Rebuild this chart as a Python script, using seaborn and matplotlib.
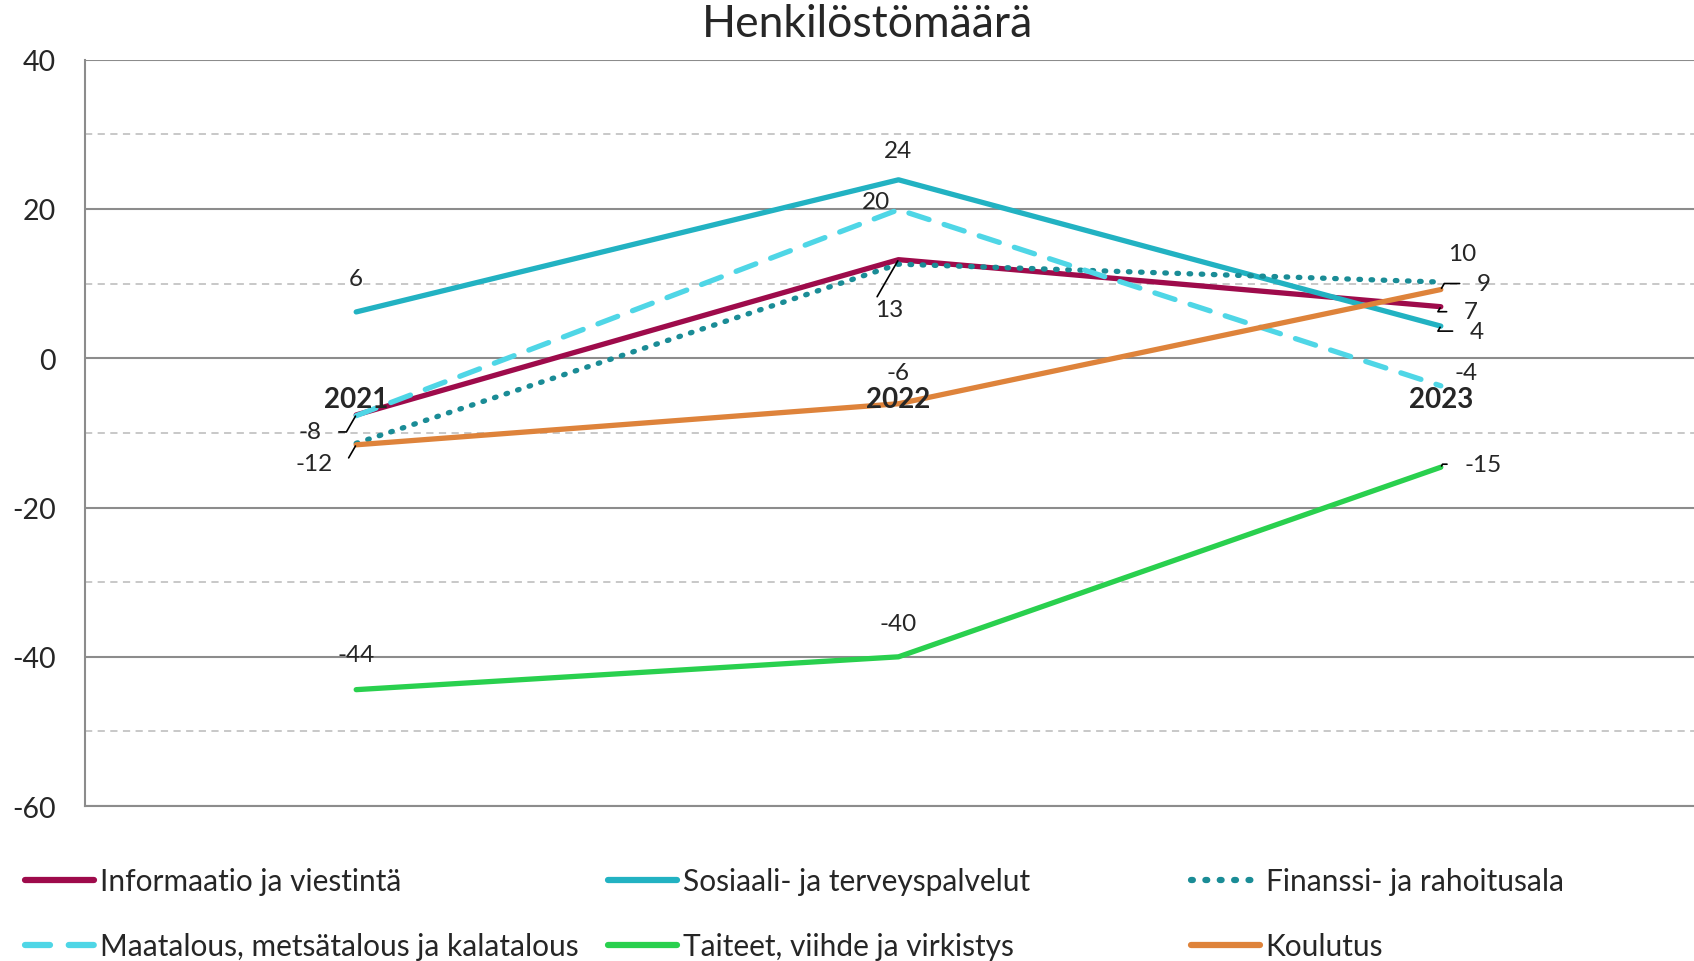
import pandas as pd
import matplotlib.pyplot as plt
import matplotlib.lines as mlines
import seaborn as sns

# data
years = ["2021", "2022", "2023"]
informaatio = [-7.6, 13.2, 6.9]
sosiaali = [6.2, 23.9, 4.3]
finanssi = [-11.4, 12.6, 10.2]
maatalous = [-7.7, 19.9, -3.7]
taiteet = [-44.4, -40.0, -14.6]
koulutus = [-11.6, -6.1, 9.2]

names = ["Informaatio ja viestintä", "Sosiaali- ja terveyspalvelut", "Finanssi- ja rahoitusala",
         "Maatalous, metsätalous ja kalatalous", "Taiteet, viihde ja virkistys", "Koulutus"]
series = [informaatio, sosiaali, finanssi, maatalous, taiteet, koulutus]
colors = ["#9E0B4B", "#22B2C2", "#1A8C96", "#4FD6E6", "#29D04E", "#DE833B"]

rows = []
for n, vals in zip(names, series):
    for i, v in enumerate(vals):
        rows.append({"sarja": n, "x": i, "arvo": v})
df = pd.DataFrame(rows)

sns.set_style("white")
plt.rcParams["font.family"] = ["Lato", "DejaVu Sans"]
plt.rcParams["axes.unicode_minus"] = False

fig = plt.figure(figsize=(16.94, 9.62), dpi=100)
ax = fig.add_axes([0.0502, 0.161, 0.9604, 0.776])

palette = dict(zip(names, colors))
dashes = {names[0]: "", names[1]: "", names[2]: (0.3, 2.0), names[3]: (4, 3),
          names[4]: "", names[5]: ""}
sns.lineplot(data=df, x="x", y="arvo", hue="sarja", style="sarja", palette=palette,
             dashes=dashes, linewidth=3.8, legend=False, ax=ax, sort=False)
for line in ax.lines:
    line.set_dash_capstyle("round")
    line.set_solid_capstyle("round")

ax.set_xlim(-0.5, 2.5)
ax.set_ylim(-60, 40)
ax.set_yticks([-60, -40, -20, 0, 20, 40])
ax.set_yticks([-50, -30, -10, 10, 30], minor=True)
ax.grid(axis="y", which="major", color="#8c8c8c", linewidth=1.5, linestyle="-")
ax.grid(axis="y", which="minor", color="#c4c4c4", linewidth=1.3, linestyle=(0, (4, 3)))
ax.set_axisbelow(True)
ax.set_xticks([])
ax.set_xlabel("")
ax.set_ylabel("")
ax.tick_params(axis="y", which="both", length=0, pad=21, labelsize=20.5)
for s in ["top", "right"]:
    ax.spines[s].set_visible(False)
ax.spines["left"].set_color("#8c8c8c")
ax.spines["bottom"].set_color("#8c8c8c")
ax.spines["left"].set_linewidth(1.5)
ax.spines["bottom"].set_linewidth(1.5)

# category labels next to the zero line
for i, y in enumerate(years):
    ax.annotate(y, (i, 0), xytext=(0, -41), textcoords="offset pixels",
                ha="center", va="center", fontsize=20, fontweight="bold")

# data labels: (series index, point index, dx, dy, leader)
labels = [
    (1, 0, 0, 33, False), (0, 0, -46, -17, True), (5, 0, -42, -19, True), (4, 0, 0, 35, False),
    (1, 1, 0, 29, False), (3, 1, -22, 8, False), (0, 1, -9, -50, True), (5, 1, 0, 31, False),
    (4, 1, 0, 33, False),
    (2, 2, 21, 29, False), (5, 2, 43, 6, True), (0, 2, 30, -5, True), (1, 2, 36, -5, True),
    (3, 2, 25, 13, False), (4, 2, 42, 3, True),
]
for si, pi, dx, dy, lead in labels:
    v = series[si][pi]
    props = None
    if lead:
        props = dict(arrowstyle="-", color="black", lw=1.2, shrinkA=10, shrinkB=1,
                     connectionstyle="angle,angleA=0,angleB=60,rad=0")
    ax.annotate(f"{round(v):.0f}", (pi, v), xytext=(dx, dy), textcoords="offset pixels",
                ha="center", va="center", fontsize=17.5, arrowprops=props)

fig.text(0.512, 0.975, "Henkilöstömäärä", ha="center", va="center", fontsize=32)

# legend, three columns
styles = ["-", "-", (0, (0.3, 2.0)), (0, (4, 3)), "-", "-"]
cols = [[0, 3], [1, 4], [2, 5]]
xpos = [0.008, 0.352, 0.696]
for c, x in zip(cols, xpos):
    hs = []
    for i in c:
        hs.append(mlines.Line2D([], [], color=colors[i], lw=4.5, linestyle=styles[i],
                                dash_capstyle="round", solid_capstyle="round", label=names[i]))
    fig.legend(handles=hs, loc="upper left", bbox_to_anchor=(x, 0.110), frameon=False,
               fontsize=21.5, handlelength=2.3, handletextpad=0.2, labelspacing=1.24,
               borderaxespad=0)

fig.savefig("out.png", dpi=100)
